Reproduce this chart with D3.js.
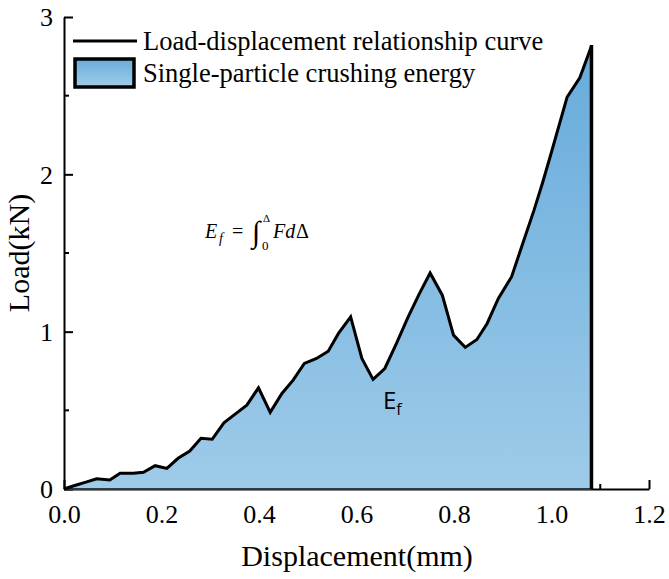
<!DOCTYPE html>
<html>
<head>
<meta charset="utf-8">
<script src="https://cdn.jsdelivr.net/npm/d3@7"></script>
<style>
  body { margin: 0; background: #fff; }
  svg { display: block; }
  text { font-family: "Liberation Serif", "Times New Roman", serif; fill: #000; }
</style>
</head>
<body>
<svg></svg>
<script>
// data
let displacement = [0, 0.022, 0.045, 0.067, 0.094, 0.115, 0.142, 0.163, 0.187, 0.211, 0.234, 0.258,
    0.281, 0.304, 0.328, 0.351, 0.375, 0.399, 0.423, 0.447, 0.470, 0.493, 0.518, 0.542, 0.563,
    0.588, 0.611, 0.634, 0.658, 0.682, 0.706, 0.729, 0.751, 0.776, 0.799, 0.823, 0.847, 0.868,
    0.891, 0.918, 0.941, 0.964, 0.982, 1.000, 1.032, 1.058, 1.082]
let load = [0, 0.022, 0.044, 0.065, 0.057, 0.100, 0.100, 0.106, 0.148, 0.131, 0.195, 0.241,
    0.322, 0.316, 0.421, 0.476, 0.533, 0.643, 0.487, 0.607, 0.692, 0.798, 0.830, 0.876, 0.989,
    1.094, 0.830, 0.697, 0.766, 0.925, 1.094, 1.242, 1.373, 1.232, 0.978, 0.900, 0.950, 1.052,
    1.211, 1.348, 1.560, 1.771, 1.950, 2.142, 2.491, 2.614, 2.815]

let xTicks = [0, 0.2, 0.4, 0.6, 0.8, 1.0, 1.2]
let xMinor = [0.1, 0.3, 0.5, 0.7, 0.9, 1.1]
let yTicks = [0, 1, 2, 3]
let yMinor = [0.5, 1.5, 2.5]

let legendLabels = ['Load-displacement relationship curve', 'Single-particle crushing energy']

let width = 669
let height = 579

let svg = d3.select('svg').attr('width', width).attr('height', height)

let xScale = d3.scaleLinear().domain([0, 1.2]).range([64, 649])
let yScale = d3.scaleLinear().domain([0, 3]).range([489, 17])

let points = displacement.map((d, i) => ({x: d, y: load[i]}))

// gradient for the fill
let defs = svg.append('defs')
let grad = defs.append('linearGradient')
    .attr('id', 'fillGrad')
    .attr('gradientUnits', 'userSpaceOnUse')
    .attr('x1', 0).attr('x2', 0)
    .attr('y1', yScale(d3.max(load))).attr('y2', yScale(0))
grad.append('stop').attr('offset', 0).attr('stop-color', '#67abdb')
grad.append('stop').attr('offset', 1).attr('stop-color', '#9ecbe9')

let legGrad = defs.append('linearGradient')
    .attr('id', 'legGrad')
    .attr('x1', 0).attr('x2', 0).attr('y1', 0).attr('y2', 1)
legGrad.append('stop').attr('offset', 0).attr('stop-color', '#68acdb')
legGrad.append('stop').attr('offset', 1).attr('stop-color', '#a0cdea')

// axes
let xAxis = d3.axisBottom(xScale).tickValues(xTicks).tickSizeInner(-9).tickSizeOuter(0)
    .tickPadding(16).tickFormat(d3.format('.1f'))
let yAxis = d3.axisLeft(yScale).tickValues(yTicks).tickSizeInner(-9).tickSizeOuter(0)
    .tickPadding(11).tickFormat(d3.format('d'))

let gx = svg.append('g')
    .attr('transform', 'translate(0,' + yScale(0) + ')')
    .call(xAxis)
let gy = svg.append('g')
    .attr('transform', 'translate(' + xScale(0) + ',0)')
    .call(yAxis)

svg.append('g').selectAll('line').data(xMinor).enter().append('line')
    .attr('x1', d => xScale(d)).attr('x2', d => xScale(d))
    .attr('y1', yScale(0)).attr('y2', yScale(0) - 5)
    .attr('stroke', '#000').attr('stroke-width', 2)
svg.append('g').selectAll('line').data(yMinor).enter().append('line')
    .attr('x1', xScale(0)).attr('x2', xScale(0) + 5)
    .attr('y1', d => yScale(d)).attr('y2', d => yScale(d))
    .attr('stroke', '#000').attr('stroke-width', 2)

for (let g of [gx, gy]) {
    g.select('.domain').attr('stroke', '#000').attr('stroke-width', 2)
    g.selectAll('.tick line').attr('stroke', '#000').attr('stroke-width', 2)
    g.selectAll('.tick text')
        .style('font-family', '"Liberation Serif", serif')
        .style('font-size', '26px').attr('fill', '#000')
}
gy.selectAll('.tick text').attr('dy', '0.34em')

// area + curve
let area = d3.area().x(d => xScale(d.x)).y0(yScale(0)).y1(d => yScale(d.y))
svg.append('path').datum(points)
    .attr('d', area)
    .attr('fill', 'url(#fillGrad)')

svg.append('line')
    .attr('x1', xScale(0)).attr('x2', xScale(displacement[displacement.length - 1]))
    .attr('y1', yScale(0)).attr('y2', yScale(0))
    .attr('stroke', '#2b3a44').attr('stroke-width', 2)

let line = d3.line().x(d => xScale(d.x)).y(d => yScale(d.y))
svg.append('path').datum(points)
    .attr('d', line)
    .attr('fill', 'none')
    .attr('stroke', '#000')
    .attr('stroke-width', 3)
    .attr('stroke-linejoin', 'miter')

let last = points[points.length - 1]
svg.append('line')
    .attr('x1', xScale(last.x)).attr('x2', xScale(last.x))
    .attr('y1', yScale(last.y) - 1).attr('y2', yScale(0))
    .attr('stroke', '#000').attr('stroke-width', 3.5)

// axis titles
svg.append('text')
    .attr('x', 357).attr('y', 566)
    .attr('text-anchor', 'middle')
    .style('font-size', '30px')
    .text('Displacement(mm)')
svg.append('text')
    .attr('transform', 'translate(29,253) rotate(-90)')
    .attr('text-anchor', 'middle')
    .style('font-size', '30px')
    .text('Load(kN)')

// legend
svg.append('line')
    .attr('x1', 73).attr('x2', 137).attr('y1', 41).attr('y2', 41)
    .attr('stroke', '#000').attr('stroke-width', 3)
svg.append('rect')
    .attr('x', 75).attr('y', 59).attr('width', 59).attr('height', 28)
    .attr('fill', 'url(#legGrad)')
    .attr('stroke', '#000').attr('stroke-width', 3.5)
svg.append('text').attr('x', 143).attr('y', 50).style('font-size', '26.5px').text(legendLabels[0])
svg.append('text').attr('x', 143).attr('y', 82).style('font-size', '26.5px').text(legendLabels[1])

// formula
let f = svg.append('g').style('font-style', 'italic').style('font-size', '20px')
f.append('text').attr('x', 205).attr('y', 238).text('E')
f.append('text').attr('x', 219).attr('y', 243).style('font-size', '14px').text('f')
f.append('text').attr('x', 232).attr('y', 238).style('font-style', 'normal').text('=')
f.append('text').attr('x', 252).attr('y', 242).style('font-style', 'normal').style('font-size', '30px').text('\u222B')
f.append('text').attr('x', 263).attr('y', 222).style('font-style', 'normal').style('font-size', '11px').text('\u0394')
f.append('text').attr('x', 262).attr('y', 250).style('font-style', 'normal').style('font-size', '13px').text('0')
f.append('text').attr('x', 273).attr('y', 238).text('Fd')
f.append('text').attr('x', 296).attr('y', 238).style('font-style', 'normal').text('\u0394')

// E_f label
let ef = svg.append('text').attr('x', 383).attr('y', 409)
    .style('font-family', '"Open Sans", sans-serif').style('font-size', '24px')
ef.append('tspan').text('E')
ef.append('tspan').attr('dy', 6).style('font-size', '16px').text('f')
</script>
</body>
</html>
